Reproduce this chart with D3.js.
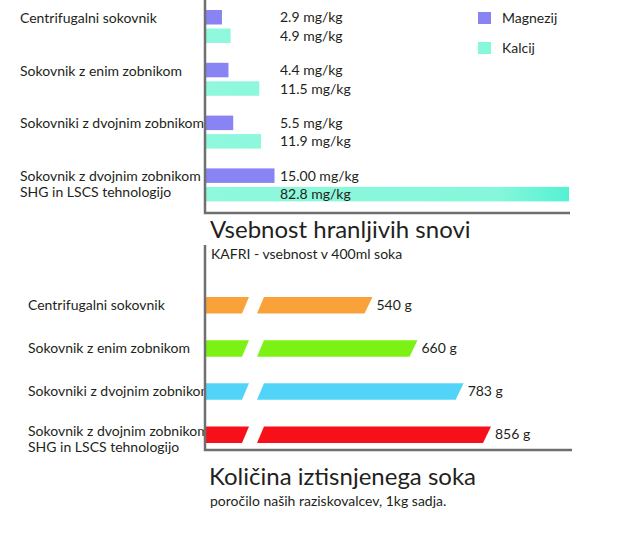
<!DOCTYPE html>
<html>
<head>
<meta charset="utf-8">
<script src="https://cdn.jsdelivr.net/npm/d3@7"></script>
<style>
  body { margin: 0; background: #fff; }
  svg { display: block; font-family: Lato, "Open Sans", sans-serif; }
</style>
</head>
<body>
<svg id="chart" width="640" height="537"></svg>
<script>
// top chart: nutrients
const juicers = [
  "Centrifugalni sokovnik",
  "Sokovnik z enim zobnikom",
  "Sokovniki z dvojnim zobnikom",
  "Sokovnik z dvojnim zobnikom\nSHG in LSCS tehnologijo"
]
const minerals = ["Magnezij", "Kalcij"]
const magnezij = [2.9, 4.4, 5.5, 15.0]
const kalcij = [4.9, 11.5, 11.9, 82.8]
const mineralLabels = [
  ["2.9 mg/kg", "4.9 mg/kg"],
  ["4.4 mg/kg", "11.5 mg/kg"],
  ["5.5 mg/kg", "11.9 mg/kg"],
  ["15.00 mg/kg", "82.8 mg/kg"]
]

// bottom chart: juice yield
const yieldGrams = [540, 660, 783, 856]
const yieldLabels = ["540 g", "660 g", "783 g", "856 g"]

const titleTop = "Vsebnost hranljivih snovi"
const subTop = "KAFRI - vsebnost v 400ml soka"
const titleBottom = "Količina iztisnjenega soka"
const subBottom = "poročilo naših raziskovalcev, 1kg sadja."

const textCol = "#231f20"
const axisCol = "#6f6f6f"
const mineralCol = {Magnezij: "#8884f4", Kalcij: "#86f7da"}
const yieldCol = ["#f9a23a", "#7cf214", "#52d4f8", "#f7101a"]
const fs = 14

const svg = d3.select("#chart")
const defs = svg.append("defs")

const axisX = 205

// ---------- top chart ----------
const xTop = d3.scaleLinear().domain([-1, 82.8]).range([axisX, 569])
const yTop = d3.scaleBand().domain(juicers).range([10, 201.4]).paddingInner(0.375)
const ySub = d3.scaleBand().domain(minerals).range([0, yTop.bandwidth()]).paddingInner(0.216)

const grad = defs.append("linearGradient")
  .attr("id", "kalcijGrad")
  .attr("gradientUnits", "userSpaceOnUse")
  .attr("x1", axisX).attr("x2", 569).attr("y1", 0).attr("y2", 0)
grad.append("stop").attr("offset", 0).attr("stop-color", "#8ff8dd")
grad.append("stop").attr("offset", 0.8).attr("stop-color", "#86f7da")
grad.append("stop").attr("offset", 1).attr("stop-color", "#55f1d3")

const topG = svg.append("g")

function catLabel(g, text, x, y, lh) {
  const t = g.append("text")
    .attr("x", x).attr("y", y)
    .attr("font-size", fs)
    .attr("fill", textCol)
  text.split("\n").forEach((line, i) => {
    t.append("tspan").attr("x", x).attr("dy", i ? lh : 0).text(line)
  })
  return t
}

juicers.forEach((c, i) => {
  const yc = yTop(c) + ySub("Magnezij") + ySub.bandwidth() / 2
  catLabel(topG, c, 20, yc + 5.5, 16)
})

const groups = topG.selectAll("g.grp")
  .data(juicers)
  .join("g")
  .attr("class", "grp")
  .attr("transform", d => `translate(0,${yTop(d)})`)

groups.selectAll("rect")
  .data((d, i) => [
    {m: "Magnezij", v: magnezij[i]},
    {m: "Kalcij", v: kalcij[i]}
  ])
  .join("rect")
  .attr("x", axisX)
  .attr("y", d => ySub(d.m))
  .attr("width", d => xTop(d.v) - axisX)
  .attr("height", ySub.bandwidth())
  .attr("fill", d => d.m === "Kalcij" ? "url(#kalcijGrad)" : mineralCol[d.m])

groups.selectAll("text.val")
  .data((d, i) => [
    {m: "Magnezij", lab: mineralLabels[i][0]},
    {m: "Kalcij", lab: mineralLabels[i][1]}
  ])
  .join("text")
  .attr("class", "val")
  .attr("x", 280)
  .attr("y", d => ySub(d.m) + ySub.bandwidth() / 2 + 5)
  .attr("font-size", fs)
  .attr("fill", textCol)
  .text(d => d.lab)

// axes of top chart
topG.append("path")
  .attr("d", `M${axisX},0V213H570`)
  .attr("fill", "none")
  .attr("stroke", axisCol)
  .attr("stroke-width", 2.5)

// legend
const legend = svg.append("g").attr("transform", "translate(478,12)")
minerals.forEach((m, i) => {
  const g = legend.append("g").attr("transform", `translate(0,${i * 30})`)
  g.append("rect").attr("width", 13).attr("height", 12).attr("fill", mineralCol[m])
  g.append("text").attr("x", 24).attr("y", 11)
    .attr("font-size", fs).attr("fill", textCol).text(m)
})

svg.append("text").attr("x", 210).attr("y", 238)
  .attr("font-size", 24).attr("fill", textCol).text(titleTop)
svg.append("text").attr("x", 211).attr("y", 259)
  .attr("font-size", 14).attr("fill", textCol).text(subTop)

// ---------- bottom chart ----------
// broken axis: zero sits left of the visible origin
const xBot = d3.scaleLinear().domain([0, 856]).range([170, 491])
const yBot = d3.scaleBand().domain(juicers).range([297, 443]).paddingInner(0.618)
const skew = 7
const breakL = 242, breakR = 257

defs.append("clipPath").attr("id", "labClip")
  .append("rect").attr("x", 0).attr("y", 260).attr("width", axisX).attr("height", 200)

const bot = svg.append("g")
const labs = bot.append("g").attr("clip-path", "url(#labClip)")
juicers.forEach(c => {
  const yc = yBot(c) + yBot.bandwidth() / 2
  const n = c.split("\n").length
  catLabel(labs, c, 28, yc + 4.5 - (n - 1) * 3, 16)
})

const h = yBot.bandwidth()
juicers.forEach((c, i) => {
  const y0 = yBot(c), y1 = y0 + h
  const xe = xBot(yieldGrams[i])
  bot.append("path")
    .attr("d", `M${axisX},${y0}H${breakL + skew}L${breakL},${y1}H${axisX}Z`)
    .attr("fill", yieldCol[i])
  bot.append("path")
    .attr("d", `M${breakR + skew},${y0}H${xe}L${xe - skew - 1},${y1}H${breakR}Z`)
    .attr("fill", yieldCol[i])
  bot.append("text")
    .attr("x", xe + 4).attr("y", y0 + h / 2 + 4.5)
    .attr("font-size", fs).attr("fill", textCol)
    .text(yieldLabels[i])
})

bot.append("path")
  .attr("d", `M${axisX},245V450H572`)
  .attr("fill", "none")
  .attr("stroke", axisCol)
  .attr("stroke-width", 2.5)

svg.append("text").attr("x", 209).attr("y", 485)
  .attr("font-size", 24).attr("fill", textCol).text(titleBottom)
svg.append("text").attr("x", 210).attr("y", 506)
  .attr("font-size", 14).attr("fill", textCol).text(subBottom)
</script>
</body>
</html>
